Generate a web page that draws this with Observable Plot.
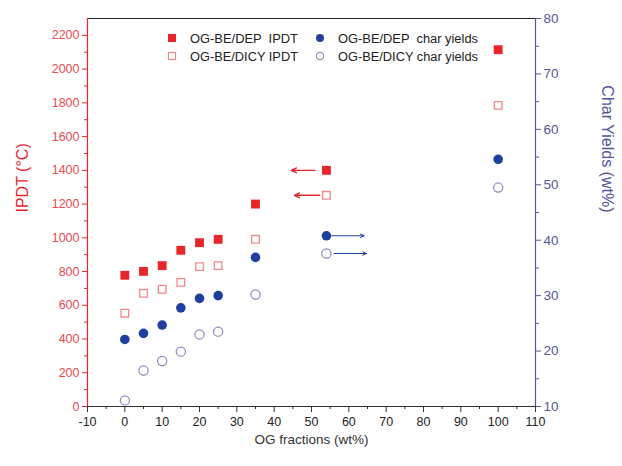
<!DOCTYPE html>
<html><head><meta charset="utf-8">
<script src="https://cdn.jsdelivr.net/npm/d3@7"></script>
<script src="https://cdn.jsdelivr.net/npm/@observablehq/plot@0.6"></script>
<style>
html,body{margin:0;padding:0;background:#fff;}
#wrap{position:relative;width:622px;height:466px;font-family:"Liberation Sans",Arial,sans-serif;}
#legend{position:absolute;left:0;top:0;}
</style></head>
<body><div id="wrap"></div>
<script>
// x positions (OG fraction, wt%)
const fractions = [0, 5, 10, 15, 20, 25, 35, 54, 100];
// IPDT (°C)
const ipdtDEP  = [778, 801, 835, 926, 971, 991, 1200, 1400, 2115];
const ipdtDICY = [553, 671, 695, 736, 829, 835, 991, 1252, 1785];
// Char yields (wt%)
const charDEP  = [22.1, 23.2, 24.7, 27.8, 29.5, 30.0, 36.9, 40.8, 54.6];
const charDICY = [11.1, 16.5, 18.2, 19.9, 23.0, 23.5, 30.2, 37.6, 49.5];
// arrows indicating axis (data units: x from -> to, y value, axis side)
const arrowX1 = [51.0, 52.2, 55.4, 56.0];
const arrowX2 = [44.6, 45.4, 64.1, 64.7];
const arrowY  = [1400, 1252, 40.8, 37.6];
const arrowAxis = ["left", "left", "right", "right"];
// axes
const xTicks = d3.range(-10, 111, 10);
const xMinor = d3.range(-5, 110, 10);
const leftTicks = d3.range(0, 2201, 200);
const leftMinor = d3.range(100, 2300, 200);
const rightTicks = d3.range(10, 81, 10);
const rightMinor = d3.range(15, 80, 10);
const leftDomain = [0, 2300];
const rightDomain = [10, 80];
const legendLabels = ["OG-BE/DEP  IPDT", "OG-BE/DICY IPDT", "OG-BE/DEP  char yields", "OG-BE/DICY char yields"];

const RED = "#e8262a", RED_T = "#e94a4f", PINK = "#f08a8c";
const BLUE = "#1f3f9e", BLUE_AX = "#55559c", BLUE_O = "#8a8ac0";

const toLeft = r => leftDomain[0] + (r - rightDomain[0]) * (leftDomain[1] - leftDomain[0]) / (rightDomain[1] - rightDomain[0]);
const fromLeft = v => rightDomain[0] + (v - leftDomain[0]) * (rightDomain[1] - rightDomain[0]) / (leftDomain[1] - leftDomain[0]);

const rows = (ys, conv) => fractions.map((x, i) => ({x, y: conv ? toLeft(ys[i]) : ys[i]}));
const arrows = arrowX1.map((x1, i) => ({x1, x2: arrowX2[i], y: arrowAxis[i] === "left" ? arrowY[i] : toLeft(arrowY[i]), axis: arrowAxis[i]}));
const plain = d => String(d);

const chart = Plot.plot({
  width: 622, height: 466,
  marginLeft: 87, marginRight: 87, marginTop: 18, marginBottom: 60,
  style: {fontFamily: "Liberation Sans, Arial, sans-serif", fontSize: "12px", background: "#fff"},
  x: {domain: [-10, 110]},
  y: {domain: leftDomain},
  marks: [
    Plot.ruleY([leftDomain[1]], {stroke: "#222", strokeWidth: 1.2}),
    Plot.ruleY([leftDomain[0]], {stroke: "#333", strokeWidth: 1.2}),
    Plot.ruleX([-10], {stroke: RED, strokeWidth: 1.2}),
    Plot.ruleX([110], {stroke: BLUE_AX, strokeWidth: 1.2}),
    Plot.axisX({ticks: xTicks, tickFormat: plain, tickSize: 6, tickPadding: 5, stroke: "#333", color: "#222", fontSize: 12.5, label: null}),
    Plot.axisX({ticks: xMinor, tickSize: 3, text: null, stroke: "#333", label: null}),
    Plot.axisY({anchor: "left", ticks: leftTicks, tickFormat: plain, tickSize: 5, tickPadding: 3, stroke: RED, color: RED_T, fontSize: 12.5, label: null}),
    Plot.axisY({anchor: "left", ticks: leftMinor, tickSize: 3, text: null, stroke: RED, label: null}),
    Plot.axisY({anchor: "right", ticks: rightTicks.map(toLeft), tickFormat: d => String(Math.round(fromLeft(d))), tickSize: 5, tickPadding: 3, stroke: BLUE_AX, color: BLUE_AX, fontSize: 13.5, label: null}),
    Plot.axisY({anchor: "right", ticks: rightMinor.map(toLeft), tickSize: 3, text: null, stroke: BLUE_AX, label: null}),
    Plot.text(["OG fractions (wt%)"], {frameAnchor: "bottom", dy: 37, fontSize: 13.5, fill: "#333"}),
    Plot.text(["IPDT (\u00B0C)"], {frameAnchor: "left", rotate: -90, dx: -65, fontSize: 16, fill: RED}),
    Plot.text(["Char Yields (wt%)"], {frameAnchor: "right", rotate: 90, dx: 72, fontSize: 16, fill: BLUE_AX}),
    Plot.arrow(arrows.filter(d => d.axis === "left"), {x1: "x1", x2: "x2", y1: "y", y2: "y", stroke: RED, strokeWidth: 1.4, headLength: 6, headAngle: 50}),
    Plot.arrow(arrows.filter(d => d.axis === "right"), {x1: "x1", x2: "x2", y1: "y", y2: "y", stroke: BLUE, strokeWidth: 1, headLength: 6, headAngle: 50}),
    Plot.dot(rows(ipdtDICY), {x: "x", y: "y", symbol: "square", r: 4.3, stroke: PINK, strokeWidth: 1.3, fill: "#fff"}),
    Plot.dot(rows(ipdtDEP), {x: "x", y: "y", symbol: "square", r: 5, fill: RED, stroke: "none"}),
    Plot.dot(rows(charDICY, true), {x: "x", y: "y", r: 4.6, stroke: BLUE_O, strokeWidth: 1.2, fill: "#fff"}),
    Plot.dot(rows(charDEP, true), {x: "x", y: "y", r: 4.8, fill: BLUE, stroke: "none"})
  ]
});
const wrap = document.getElementById("wrap");
wrap.appendChild(chart);

// legend overlay
const lg = d3.select(wrap).append("svg").attr("id", "legend").attr("width", 622).attr("height", 80);
const items = [
  {lx: 172, ly: 38, kind: "sq-fill"}, {lx: 172, ly: 56, kind: "sq-open"},
  {lx: 320, ly: 38, kind: "ci-fill"}, {lx: 320, ly: 56, kind: "ci-open"}
];
items.forEach((it, i) => {
  if (it.kind === "sq-fill") lg.append("rect").attr("x", it.lx - 4).attr("y", it.ly - 4).attr("width", 8).attr("height", 8).attr("fill", RED);
  if (it.kind === "sq-open") lg.append("rect").attr("x", it.lx - 3.5).attr("y", it.ly - 3.5).attr("width", 7).attr("height", 7).attr("fill", "#fff").attr("stroke", PINK).attr("stroke-width", 1.2);
  if (it.kind === "ci-fill") lg.append("circle").attr("cx", it.lx).attr("cy", it.ly).attr("r", 4).attr("fill", BLUE);
  if (it.kind === "ci-open") lg.append("circle").attr("cx", it.lx).attr("cy", it.ly).attr("r", 3.6).attr("fill", "#fff").attr("stroke", BLUE_O).attr("stroke-width", 1.1);
  lg.append("text").attr("x", it.lx + 18).attr("y", it.ly + 4.5).attr("font-size", "12px").attr("fill", "#222")
    .attr("xml:space", "preserve").style("white-space", "pre").attr("textLength", i < 2 ? 108 : 140).attr("lengthAdjust", "spacingAndGlyphs")
    .text(legendLabels[i]);
});
</script></body></html>
